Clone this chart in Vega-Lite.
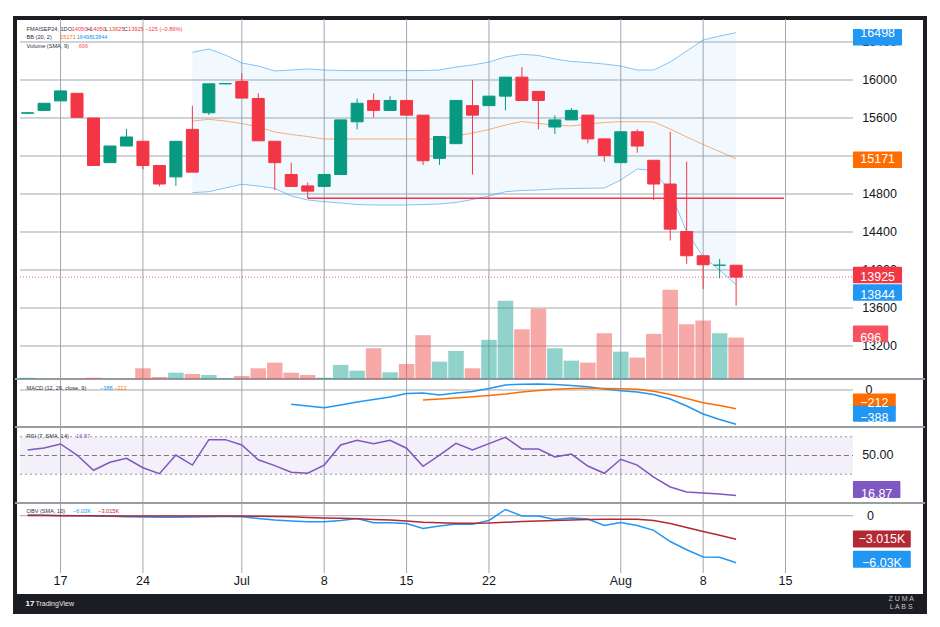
{
  "$schema": "https://vega.github.io/schema/vega-lite/v6.json",
  "description": "FMAISEP24 daily candles with Bollinger Bands, volume, MACD, RSI and OBV panes.",
  "width": 910,
  "height": 594,
  "autosize": {"type": "none"},
  "padding": {"left": 15, "top": 18, "right": 15, "bottom": 15},
  "background": "#ffffff",
  "config": {
    "font": "Liberation Sans",
    "view": {"stroke": "#1b1d22", "strokeWidth": 4, "fill": "#ffffff"}
  },
  "resolve": {"scale": {"y": "independent"}},
  "datasets": {
    "bars": [
      {"i": -2, "open": 15650, "high": 15660, "low": 15640, "close": 15655, "volume": 22, "rsi": 54.5, "obv": 90, "obv_ma": 20},
      {"i": -1, "open": 15680, "high": 15755, "low": 15680, "close": 15755, "volume": 5, "rsi": 56.2, "obv": 50, "obv_ma": 10},
      {"i": 0, "open": 15780, "high": 15885, "low": 15780, "close": 15885, "volume": 5, "rsi": 59.5, "obv": 25, "obv_ma": 0},
      {"i": 1, "open": 15860, "high": 15860, "low": 15607, "close": 15607, "volume": 5, "rsi": 50.4, "obv": -13, "obv_ma": -10},
      {"i": 2, "open": 15600, "high": 15600, "low": 15100, "close": 15100, "volume": 22, "rsi": 37.8, "obv": -40, "obv_ma": -20},
      {"i": 3, "open": 15130, "high": 15305, "low": 15130, "close": 15305, "volume": 5, "rsi": 44.4, "obv": -77, "obv_ma": -30},
      {"i": 4, "open": 15305, "high": 15485, "low": 15305, "close": 15400, "volume": 5, "rsi": 47.7, "obv": -128, "obv_ma": -40},
      {"i": 5, "open": 15355, "high": 15355, "low": 15060, "close": 15100, "volume": 180, "rsi": 39.9, "obv": -167, "obv_ma": -40},
      {"i": 6, "open": 15100, "high": 15100, "low": 14880, "close": 14905, "volume": 34, "rsi": 35.0, "obv": -205, "obv_ma": -40},
      {"i": 7, "open": 14980, "high": 15355, "low": 14885, "close": 15355, "volume": 107, "rsi": 50.4, "obv": -190, "obv_ma": -45},
      {"i": 8, "open": 15480, "high": 15730, "low": 15030, "close": 15030, "volume": 84, "bb_upper": 16291, "bb_basis": 15568, "bb_lower": 14814, "rsi": 42.1, "obv": -167, "obv_ma": -45},
      {"i": 9, "open": 15655, "high": 15960, "low": 15632, "close": 15960, "volume": 67, "bb_upper": 16326, "bb_basis": 15586, "bb_lower": 14824, "rsi": 63.1, "obv": -128, "obv_ma": -40},
      {"i": 10, "open": 15960, "high": 15965, "low": 15955, "close": 15962, "volume": 10, "bb_upper": 16263, "bb_basis": 15568, "bb_lower": 14863, "rsi": 63.1, "obv": -115, "obv_ma": -40},
      {"i": 11, "open": 15985, "high": 16070, "low": 15807, "close": 15810, "volume": 51, "bb_upper": 16179, "bb_basis": 15542, "bb_lower": 14902, "rsi": 58.7, "obv": -128, "obv_ma": -40},
      {"i": 12, "open": 15805, "high": 15860, "low": 15358, "close": 15360, "volume": 180, "bb_upper": 16147, "bb_basis": 15505, "bb_lower": 14884, "rsi": 46.5, "obv": -360, "obv_ma": -64},
      {"i": 13, "open": 15355, "high": 15355, "low": 14840, "close": 15130, "volume": 275, "bb_upper": 16095, "bb_basis": 15453, "bb_lower": 14858, "rsi": 41.6, "obv": -552, "obv_ma": -103},
      {"i": 14, "open": 15005, "high": 15130, "low": 14877, "close": 14880, "volume": 107, "bb_upper": 16105, "bb_basis": 15426, "bb_lower": 14779, "macd": -162, "rsi": 36.1, "obv": -680, "obv_ma": -141},
      {"i": 15, "open": 14885, "high": 14920, "low": 14755, "close": 14830, "volume": 67, "bb_upper": 16116, "bb_basis": 15405, "bb_lower": 14737, "macd": -181, "rsi": 35.3, "obv": -770, "obv_ma": -231},
      {"i": 16, "open": 14880, "high": 15005, "low": 14877, "close": 15005, "volume": 22, "bb_upper": 16105, "bb_basis": 15379, "bb_lower": 14719, "macd": -200, "rsi": 42.1, "obv": -770, "obv_ma": -295},
      {"i": 17, "open": 15005, "high": 15580, "low": 15005, "close": 15580, "volume": 236, "bb_upper": 16100, "bb_basis": 15379, "bb_lower": 14705, "macd": -170, "rsi": 58.7, "obv": -616, "obv_ma": -334},
      {"i": 18, "open": 15560, "high": 15805, "low": 15480, "close": 15755, "volume": 140, "bb_upper": 16098, "bb_basis": 15379, "bb_lower": 14689, "macd": -136, "rsi": 62.6, "obv": -360, "obv_ma": -398},
      {"i": 19, "open": 15785, "high": 15860, "low": 15607, "close": 15680, "volume": 517, "bb_upper": 16098, "bb_basis": 15379, "bb_lower": 14684, "macd": -107, "rsi": 59.8, "obv": -899, "obv_ma": -488},
      {"i": 20, "open": 15680, "high": 15830, "low": 15680, "close": 15785, "volume": 113, "bb_upper": 16098, "bb_basis": 15379, "bb_lower": 14684, "macd": -79, "rsi": 62.6, "obv": -899, "obv_ma": -565},
      {"i": 21, "open": 15785, "high": 15785, "low": 15628, "close": 15630, "volume": 253, "bb_upper": 16098, "bb_basis": 15379, "bb_lower": 14684, "macd": -40, "rsi": 56.0, "obv": -1001, "obv_ma": -680},
      {"i": 22, "open": 15630, "high": 15630, "low": 15105, "close": 15150, "volume": 737, "bb_upper": 16100, "bb_basis": 15379, "bb_lower": 14689, "macd": -34, "signal": -113, "rsi": 41.1, "obv": -1643, "obv_ma": -847},
      {"i": 23, "open": 15175, "high": 15405, "low": 15105, "close": 15405, "volume": 292, "bb_upper": 16105, "bb_basis": 15379, "bb_lower": 14695, "macd": -57, "signal": -102, "rsi": 50.4, "obv": -1322, "obv_ma": -911},
      {"i": 24, "open": 15330, "high": 15785, "low": 15330, "close": 15785, "volume": 472, "bb_upper": 16137, "bb_basis": 15411, "bb_lower": 14711, "macd": -34, "signal": -90, "rsi": 60.1, "obv": -1065, "obv_ma": -976},
      {"i": 25, "open": 15730, "high": 16000, "low": 15005, "close": 15630, "volume": 180, "bb_upper": 16158, "bb_basis": 15442, "bb_lower": 14742, "macd": -17, "signal": -77, "rsi": 54.5, "obv": -1104, "obv_ma": -976},
      {"i": 26, "open": 15730, "high": 15830, "low": 15730, "close": 15830, "volume": 658, "bb_upper": 16189, "bb_basis": 15479, "bb_lower": 14779, "macd": 17, "signal": -62, "rsi": 59.8, "obv": -616, "obv_ma": -937},
      {"i": 27, "open": 15830, "high": 16030, "low": 15680, "close": 16030, "volume": 1315, "bb_upper": 16242, "bb_basis": 15526, "bb_lower": 14824, "macd": 57, "signal": -45, "rsi": 65.0, "obv": 796, "obv_ma": -847},
      {"i": 28, "open": 16030, "high": 16135, "low": 15785, "close": 15785, "volume": 838, "bb_upper": 16271, "bb_basis": 15563, "bb_lower": 14837, "macd": 66, "signal": -23, "rsi": 55.4, "obv": -39, "obv_ma": -757},
      {"i": 29, "open": 15880, "high": 15880, "low": 15480, "close": 15785, "volume": 1180, "bb_upper": 16258, "bb_basis": 15542, "bb_lower": 14842, "macd": 68, "signal": -6, "rsi": 55.4, "obv": -39, "obv_ma": -680},
      {"i": 30, "open": 15505, "high": 15628, "low": 15432, "close": 15580, "volume": 517, "bb_upper": 16221, "bb_basis": 15526, "bb_lower": 14853, "macd": 62, "signal": 8, "rsi": 48.8, "obv": -488, "obv_ma": -616},
      {"i": 31, "open": 15580, "high": 15705, "low": 15580, "close": 15680, "volume": 309, "bb_upper": 16195, "bb_basis": 15516, "bb_lower": 14858, "macd": 51, "signal": 17, "rsi": 51.2, "obv": -295, "obv_ma": -552},
      {"i": 32, "open": 15630, "high": 15630, "low": 15335, "close": 15380, "volume": 275, "bb_upper": 16184, "bb_basis": 15537, "bb_lower": 14860, "macd": 36, "signal": 19, "rsi": 41.3, "obv": -424, "obv_ma": -501},
      {"i": 33, "open": 15380, "high": 15380, "low": 15140, "close": 15205, "volume": 770, "bb_upper": 16168, "bb_basis": 15553, "bb_lower": 14863, "macd": 11, "signal": 18, "rsi": 35.3, "obv": -1258, "obv_ma": -462},
      {"i": 34, "open": 15130, "high": 15455, "low": 15130, "close": 15455, "volume": 460, "bb_upper": 16147, "bb_basis": 15561, "bb_lower": 14947, "macd": -8, "signal": 14, "rsi": 46.9, "obv": -873, "obv_ma": -462},
      {"i": 35, "open": 15455, "high": 15481, "low": 15235, "close": 15305, "volume": 360, "bb_upper": 16105, "bb_basis": 15561, "bb_lower": 15063, "macd": -23, "signal": 8, "rsi": 42.1, "obv": -1258, "obv_ma": -462},
      {"i": 36, "open": 15155, "high": 15155, "low": 14735, "close": 14905, "volume": 759, "bb_upper": 16105, "bb_basis": 15558, "bb_lower": 15047, "macd": -51, "signal": -14, "rsi": 32.2, "obv": -1887, "obv_ma": -616},
      {"i": 37, "open": 14905, "high": 15455, "low": 14310, "close": 14430, "volume": 1500, "bb_upper": 16189, "bb_basis": 15484, "bb_lower": 14821, "macd": -102, "signal": -51, "rsi": 24.0, "obv": -3312, "obv_ma": -1001},
      {"i": 38, "open": 14405, "high": 15140, "low": 14065, "close": 14150, "volume": 922, "bb_upper": 16305, "bb_basis": 15400, "bb_lower": 14400, "macd": -181, "signal": -96, "rsi": 19.8, "obv": -4365, "obv_ma": -1515},
      {"i": 39, "open": 14150, "high": 14150, "low": 13800, "close": 14055, "volume": 983, "bb_upper": 16421, "bb_basis": 15321, "bb_lower": 14137, "macd": -271, "signal": -144, "rsi": 19.0, "obv": -5302, "obv_ma": -2028},
      {"i": 40, "open": 14050, "high": 14115, "low": 13912, "close": 14050, "volume": 770, "bb_upper": 16463, "bb_basis": 15247, "bb_lower": 14000, "macd": -334, "signal": -175, "rsi": 18.2, "obv": -5340, "obv_ma": -2503},
      {"i": 41, "open": 14050, "high": 14050, "low": 13625, "close": 13925, "volume": 696, "bb_upper": 16498, "bb_basis": 15171, "bb_lower": 13844, "macd": -388, "signal": -212, "rsi": 16.87, "obv": -6030, "obv_ma": -3015}
    ],
    "ticks": [
      {"i": 0, "label": "17"}, {"i": 5, "label": "24"}, {"i": 11, "label": "Jul"},
      {"i": 16, "label": "8"}, {"i": 21, "label": "15"}, {"i": 26, "label": "22"},
      {"i": 34, "label": "Aug"}, {"i": 39, "label": "8"}, {"i": 44, "label": "15"}
    ],
    "priceLevels": [
      {"level": 16400}, {"level": 16000}, {"level": 15600}, {"level": 15200}, {"level": 14800},
      {"level": 14400}, {"level": 14000}, {"level": 13600}, {"level": 13200}
    ],
    "rsiBands": [{"level": 65.5}, {"level": 34.5}],
    "priceTags": [
      {"series": "bb_upper", "value": 16498, "label": "16498"},
      {"series": "bb_basis", "value": 15171, "label": "15171"},
      {"series": "close", "value": 13925, "label": "13925"}
    ],
    "lowerTag": [{"series": "bb_lower", "value": 13844, "label": "13844"}],
    "volumeTag": [{"series": "volume", "value": 696, "label": "696"}],
    "macdTags": [
      {"series": "signal", "value": -212, "label": "−212"},
      {"series": "macd", "value": -388, "label": "−388"}
    ],
    "rsiTag": [{"series": "rsi", "value": 16.87, "label": "16.87"}],
    "obvTags": [
      {"series": "obv_ma", "value": -3015, "label": "−3.015K"},
      {"series": "obv", "value": -6030, "label": "−6.03K"}
    ]
  },
  "layer": [
    {
      "data": {"name": "ticks"},
      "mark": {"type": "rule", "color": "#a5a7ad", "strokeWidth": 1},
      "encoding": {
        "x": {"field": "i", "type": "quantitative", "scale": {"domain": [-2.461, 52.16], "nice": false, "zero": false}, "axis": null},
        "y": {"datum": 0, "type": "quantitative", "scale": {"domain": [0, 1], "range": [555, 1], "nice": false, "zero": false}, "axis": null},
        "y2": {"datum": 1}
      }
    },
    {
      "data": {"name": "priceLevels"},
      "mark": {"type": "rule", "color": "#a5a7ad", "strokeWidth": 1},
      "encoding": {
        "x": {"datum": -2.461, "type": "quantitative", "scale": {"domain": [-2.461, 52.16], "nice": false, "zero": false}, "axis": null},
        "x2": {"datum": 48.09},
        "y": {"field": "level", "type": "quantitative", "scale": {"domain": [12852.6, 16652.6], "range": [361, 0], "nice": false, "zero": false}, "axis": null}
      }
    },
    {
      "data": {"values": [{}]},
      "mark": {"type": "rect", "color": "#7e57c2", "opacity": 0.09},
      "encoding": {
        "x": {"datum": -2.461, "type": "quantitative", "scale": {"domain": [-2.461, 52.16], "nice": false, "zero": false}, "axis": null},
        "x2": {"datum": 48.09},
        "y": {"datum": 34.5, "type": "quantitative", "scale": {"domain": [10.74, 73.55], "range": [485, 409], "nice": false, "zero": false}, "axis": null},
        "y2": {"datum": 65.5}
      }
    },
    {
      "data": {"name": "rsiBands"},
      "mark": {"type": "rule", "color": "#9598a1", "strokeWidth": 1, "strokeDash": [2, 3]},
      "encoding": {
        "x": {"datum": -2.461, "type": "quantitative", "scale": {"domain": [-2.461, 52.16], "nice": false, "zero": false}, "axis": null},
        "x2": {"datum": 48.09},
        "y": {"field": "level", "type": "quantitative", "scale": {"domain": [10.74, 73.55], "range": [485, 409], "nice": false, "zero": false}, "axis": null}
      }
    },
    {
      "data": {"values": [{}]},
      "mark": {"type": "rule", "color": "#787b86", "strokeWidth": 1, "strokeDash": [5, 3]},
      "encoding": {
        "x": {"datum": -2.461, "type": "quantitative", "scale": {"domain": [-2.461, 52.16], "nice": false, "zero": false}, "axis": null},
        "x2": {"datum": 48.09},
        "y": {"datum": 50, "type": "quantitative", "scale": {"domain": [10.74, 73.55], "range": [485, 409], "nice": false, "zero": false}, "axis": null}
      }
    },
    {
      "data": {"values": [{}]},
      "mark": {"type": "rule", "color": "#a5a7ad", "strokeWidth": 1},
      "encoding": {
        "x": {"datum": -2.461, "type": "quantitative", "scale": {"domain": [-2.461, 52.16], "nice": false, "zero": false}, "axis": null},
        "x2": {"datum": 48.09},
        "y": {"datum": 0, "type": "quantitative", "scale": {"domain": [-418.6, 124.4], "range": [409, 361], "nice": false, "zero": false}, "axis": null}
      }
    },
    {
      "data": {"values": [{}]},
      "mark": {"type": "rule", "color": "#a5a7ad", "strokeWidth": 1},
      "encoding": {
        "x": {"datum": -2.461, "type": "quantitative", "scale": {"domain": [-2.461, 52.16], "nice": false, "zero": false}, "axis": null},
        "x2": {"datum": 48.09},
        "y": {"datum": 0, "type": "quantitative", "scale": {"domain": [-7356, 1630], "range": [555, 485], "nice": false, "zero": false}, "axis": null}
      }
    },
    {
      "data": {"values": [{}]},
      "mark": {"type": "rule", "color": "#9a9ca3", "strokeWidth": 2},
      "encoding": {
        "y": {"datum": 12852.6, "type": "quantitative", "scale": {"domain": [12852.6, 16652.6], "range": [361, 0], "nice": false, "zero": false}, "axis": null}
      }
    },
    {
      "data": {"values": [{}]},
      "mark": {"type": "rule", "color": "#9a9ca3", "strokeWidth": 2},
      "encoding": {
        "y": {"datum": -418.6, "type": "quantitative", "scale": {"domain": [-418.6, 124.4], "range": [409, 361], "nice": false, "zero": false}, "axis": null}
      }
    },
    {
      "data": {"values": [{}]},
      "mark": {"type": "rule", "color": "#9a9ca3", "strokeWidth": 2},
      "encoding": {
        "y": {"datum": 10.74, "type": "quantitative", "scale": {"domain": [10.74, 73.55], "range": [485, 409], "nice": false, "zero": false}, "axis": null}
      }
    },
    {
      "data": {"name": "bars"},
      "mark": {"type": "bar", "size": 15.5, "opacity": 0.5},
      "encoding": {
        "x": {"field": "i", "type": "quantitative", "scale": {"domain": [-2.461, 52.16], "nice": false, "zero": false}, "axis": null},
        "y": {"field": "volume", "type": "quantitative", "scale": {"domain": [0, 6070], "range": [361, 0], "nice": false}, "axis": null},
        "color": {"condition": {"test": "datum.close >= datum.open", "value": "#26a69a"}, "value": "#ef5350"}
      }
    },
    {
      "data": {"name": "bars"},
      "mark": {"type": "area", "color": "#2196f3", "opacity": 0.06},
      "encoding": {
        "x": {"field": "i", "type": "quantitative", "scale": {"domain": [-2.461, 52.16], "nice": false, "zero": false}, "axis": null},
        "y": {"field": "bb_lower", "type": "quantitative", "scale": {"domain": [12852.6, 16652.6], "range": [361, 0], "nice": false, "zero": false}, "axis": null},
        "y2": {"field": "bb_upper"}
      }
    },
    {
      "data": {"name": "bars"},
      "transform": [{"fold": ["bb_upper", "bb_basis", "bb_lower"], "as": ["series", "val"]}],
      "mark": {"type": "line", "strokeWidth": 1, "opacity": 0.55},
      "encoding": {
        "x": {"field": "i", "type": "quantitative", "scale": {"domain": [-2.461, 52.16], "nice": false, "zero": false}, "axis": null},
        "y": {"field": "val", "type": "quantitative", "scale": {"domain": [12852.6, 16652.6], "range": [361, 0], "nice": false, "zero": false}, "axis": null},
        "color": {"field": "series", "type": "nominal", "legend": null,
          "scale": {"domain": ["bb_upper", "bb_basis", "bb_lower", "close", "volume", "macd", "signal", "rsi", "obv", "obv_ma"],
                    "range": ["#2196f3", "#ff6d00", "#2196f3", "#f23645", "#f7525f", "#2196f3", "#ff6d00", "#7e57c2", "#2196f3", "#b22833"]}},
        "detail": {"field": "series"}
      }
    },
    {
      "data": {"values": [{}]},
      "mark": {"type": "rule", "color": "#f23645", "strokeWidth": 1.5},
      "encoding": {
        "x": {"datum": 15, "type": "quantitative", "scale": {"domain": [-2.461, 52.16], "nice": false, "zero": false}, "axis": null},
        "x2": {"datum": 43.9},
        "y": {"datum": 14755, "type": "quantitative", "scale": {"domain": [12852.6, 16652.6], "range": [361, 0], "nice": false, "zero": false}, "axis": null}
      }
    },
    {
      "data": {"values": [{}]},
      "mark": {"type": "rule", "color": "#f23645", "strokeWidth": 1, "strokeDash": [1, 2], "opacity": 0.8},
      "encoding": {
        "x": {"datum": -2.461, "type": "quantitative", "scale": {"domain": [-2.461, 52.16], "nice": false, "zero": false}, "axis": null},
        "x2": {"datum": 48.09},
        "y": {"datum": 13925, "type": "quantitative", "scale": {"domain": [12852.6, 16652.6], "range": [361, 0], "nice": false, "zero": false}, "axis": null}
      }
    },
    {
      "data": {"name": "bars"},
      "mark": {"type": "rule", "strokeWidth": 1},
      "encoding": {
        "x": {"field": "i", "type": "quantitative", "scale": {"domain": [-2.461, 52.16], "nice": false, "zero": false}, "axis": null},
        "y": {"field": "low", "type": "quantitative", "scale": {"domain": [12852.6, 16652.6], "range": [361, 0], "nice": false, "zero": false}, "axis": null},
        "y2": {"field": "high"},
        "color": {"condition": {"test": "datum.close >= datum.open", "value": "#089981"}, "value": "#f23645"}
      }
    },
    {
      "data": {"name": "bars"},
      "mark": {"type": "bar", "size": 12, "strokeWidth": 1},
      "encoding": {
        "x": {"field": "i", "type": "quantitative", "scale": {"domain": [-2.461, 52.16], "nice": false, "zero": false}, "axis": null},
        "y": {"field": "open", "type": "quantitative", "scale": {"domain": [12852.6, 16652.6], "range": [361, 0], "nice": false, "zero": false}, "axis": null},
        "y2": {"field": "close"},
        "color": {"condition": {"test": "datum.close >= datum.open", "value": "#089981"}, "value": "#f23645"},
        "stroke": {"condition": {"test": "datum.close >= datum.open", "value": "#089981"}, "value": "#f23645"}
      }
    },
    {
      "data": {"name": "bars"},
      "transform": [{"fold": ["macd", "signal"], "as": ["series", "val"]}],
      "mark": {"type": "line", "strokeWidth": 1.5},
      "encoding": {
        "x": {"field": "i", "type": "quantitative", "scale": {"domain": [-2.461, 52.16], "nice": false, "zero": false}, "axis": null},
        "y": {"field": "val", "type": "quantitative", "scale": {"domain": [-418.6, 124.4], "range": [409, 361], "nice": false, "zero": false}, "axis": null},
        "color": {"field": "series", "type": "nominal", "legend": null,
          "scale": {"domain": ["bb_upper", "bb_basis", "bb_lower", "close", "volume", "macd", "signal", "rsi", "obv", "obv_ma"],
                    "range": ["#2196f3", "#ff6d00", "#2196f3", "#f23645", "#f7525f", "#2196f3", "#ff6d00", "#7e57c2", "#2196f3", "#b22833"]}},
        "detail": {"field": "series"}
      }
    },
    {
      "data": {"name": "bars"},
      "mark": {"type": "line", "strokeWidth": 1.5, "color": "#7e57c2"},
      "encoding": {
        "x": {"field": "i", "type": "quantitative", "scale": {"domain": [-2.461, 52.16], "nice": false, "zero": false}, "axis": null},
        "y": {"field": "rsi", "type": "quantitative", "scale": {"domain": [10.74, 73.55], "range": [485, 409], "nice": false, "zero": false}, "axis": null}
      }
    },
    {
      "data": {"name": "bars"},
      "transform": [{"fold": ["obv", "obv_ma"], "as": ["series", "val"]}],
      "mark": {"type": "line", "strokeWidth": 1.5},
      "encoding": {
        "x": {"field": "i", "type": "quantitative", "scale": {"domain": [-2.461, 52.16], "nice": false, "zero": false}, "axis": null},
        "y": {"field": "val", "type": "quantitative", "scale": {"domain": [-7356, 1630], "range": [555, 485], "nice": false, "zero": false}, "axis": null},
        "color": {"field": "series", "type": "nominal", "legend": null,
          "scale": {"domain": ["bb_upper", "bb_basis", "bb_lower", "close", "volume", "macd", "signal", "rsi", "obv", "obv_ma"],
                    "range": ["#2196f3", "#ff6d00", "#2196f3", "#f23645", "#f7525f", "#2196f3", "#ff6d00", "#7e57c2", "#2196f3", "#b22833"]}},
        "detail": {"field": "series"}
      }
    },
    {
      "data": {"name": "priceLevels"},
      "transform": [{"filter": "datum.level != 15200"}],
      "mark": {"type": "text", "align": "left", "baseline": "middle", "fontSize": 12.5, "color": "#131722"},
      "encoding": {
        "x": {"datum": 48.65, "type": "quantitative", "scale": {"domain": [-2.461, 52.16], "nice": false, "zero": false}, "axis": null},
        "y": {"field": "level", "type": "quantitative", "scale": {"domain": [12852.6, 16652.6], "range": [361, 0], "nice": false, "zero": false}, "axis": null},
        "text": {"field": "level", "type": "quantitative", "format": "d"}
      }
    },
    {
      "data": {"values": [{}]},
      "mark": {"type": "text", "align": "left", "baseline": "middle", "fontSize": 12.5, "color": "#131722"},
      "encoding": {
        "x": {"datum": 48.85, "type": "quantitative", "scale": {"domain": [-2.461, 52.16], "nice": false, "zero": false}, "axis": null},
        "y": {"datum": 0, "type": "quantitative", "scale": {"domain": [-418.6, 124.4], "range": [409, 361], "nice": false, "zero": false}, "axis": null},
        "text": {"value": "0"}
      }
    },
    {
      "data": {"values": [{}]},
      "mark": {"type": "text", "align": "left", "baseline": "middle", "fontSize": 12.5, "color": "#131722"},
      "encoding": {
        "x": {"datum": 48.65, "type": "quantitative", "scale": {"domain": [-2.461, 52.16], "nice": false, "zero": false}, "axis": null},
        "y": {"datum": 50, "type": "quantitative", "scale": {"domain": [10.74, 73.55], "range": [485, 409], "nice": false, "zero": false}, "axis": null},
        "text": {"value": "50.00"}
      }
    },
    {
      "data": {"values": [{}]},
      "mark": {"type": "text", "align": "left", "baseline": "middle", "fontSize": 12.5, "color": "#131722"},
      "encoding": {
        "x": {"datum": 48.95, "type": "quantitative", "scale": {"domain": [-2.461, 52.16], "nice": false, "zero": false}, "axis": null},
        "y": {"datum": 0, "type": "quantitative", "scale": {"domain": [-7356, 1630], "range": [555, 485], "nice": false, "zero": false}, "axis": null},
        "text": {"value": "0"}
      }
    },
    {
      "data": {"name": "priceTags"},
      "mark": {"type": "bar", "orient": "horizontal", "height": 16.5, "cornerRadius": 1},
      "encoding": {
        "x": {"datum": 48.09, "type": "quantitative", "scale": {"domain": [-2.461, 52.16], "nice": false, "zero": false}, "axis": null},
        "x2": {"datum": 51.07},
        "y": {"field": "value", "type": "quantitative", "scale": {"domain": [12852.6, 16652.6], "range": [361, 0], "nice": false, "zero": false}, "axis": null},
        "color": {"field": "series", "type": "nominal", "legend": null,
          "scale": {"domain": ["bb_upper", "bb_basis", "bb_lower", "close", "volume", "macd", "signal", "rsi", "obv", "obv_ma"],
                    "range": ["#2196f3", "#ff6d00", "#2196f3", "#f23645", "#f7525f", "#2196f3", "#ff6d00", "#7e57c2", "#2196f3", "#b22833"]}}
      }
    },
    {
      "data": {"name": "priceTags"},
      "mark": {"type": "text", "align": "center", "baseline": "middle", "fontSize": 12.5, "color": "#ffffff"},
      "encoding": {
        "x": {"datum": 49.59, "type": "quantitative", "scale": {"domain": [-2.461, 52.16], "nice": false, "zero": false}, "axis": null},
        "y": {"field": "value", "type": "quantitative", "scale": {"domain": [12852.6, 16652.6], "range": [361, 0], "nice": false, "zero": false}, "axis": null},
        "text": {"field": "label"}
      }
    },
    {
      "data": {"name": "lowerTag"},
      "mark": {"type": "bar", "orient": "horizontal", "height": 16.5, "cornerRadius": 1, "yOffset": 10},
      "encoding": {
        "x": {"datum": 48.09, "type": "quantitative", "scale": {"domain": [-2.461, 52.16], "nice": false, "zero": false}, "axis": null},
        "x2": {"datum": 51.07},
        "y": {"field": "value", "type": "quantitative", "scale": {"domain": [12852.6, 16652.6], "range": [361, 0], "nice": false, "zero": false}, "axis": null},
        "color": {"field": "series", "type": "nominal", "legend": null,
          "scale": {"domain": ["bb_upper", "bb_basis", "bb_lower", "close", "volume", "macd", "signal", "rsi", "obv", "obv_ma"],
                    "range": ["#2196f3", "#ff6d00", "#2196f3", "#f23645", "#f7525f", "#2196f3", "#ff6d00", "#7e57c2", "#2196f3", "#b22833"]}}
      }
    },
    {
      "data": {"name": "lowerTag"},
      "mark": {"type": "text", "align": "center", "baseline": "middle", "fontSize": 12.5, "color": "#ffffff", "yOffset": 10},
      "encoding": {
        "x": {"datum": 49.59, "type": "quantitative", "scale": {"domain": [-2.461, 52.16], "nice": false, "zero": false}, "axis": null},
        "y": {"field": "value", "type": "quantitative", "scale": {"domain": [12852.6, 16652.6], "range": [361, 0], "nice": false, "zero": false}, "axis": null},
        "text": {"field": "label"}
      }
    },
    {
      "data": {"name": "volumeTag"},
      "mark": {"type": "bar", "orient": "horizontal", "height": 16.5, "cornerRadius": 1},
      "encoding": {
        "x": {"datum": 48.09, "type": "quantitative", "scale": {"domain": [-2.461, 52.16], "nice": false, "zero": false}, "axis": null},
        "x2": {"datum": 50.23},
        "y": {"field": "value", "type": "quantitative", "scale": {"domain": [0, 6070], "range": [361, 0], "nice": false}, "axis": null},
        "color": {"field": "series", "type": "nominal", "legend": null,
          "scale": {"domain": ["bb_upper", "bb_basis", "bb_lower", "close", "volume", "macd", "signal", "rsi", "obv", "obv_ma"],
                    "range": ["#2196f3", "#ff6d00", "#2196f3", "#f23645", "#f7525f", "#2196f3", "#ff6d00", "#7e57c2", "#2196f3", "#b22833"]}}
      }
    },
    {
      "data": {"name": "volumeTag"},
      "mark": {"type": "text", "align": "center", "baseline": "middle", "fontSize": 12.5, "color": "#ffffff"},
      "encoding": {
        "x": {"datum": 49.17, "type": "quantitative", "scale": {"domain": [-2.461, 52.16], "nice": false, "zero": false}, "axis": null},
        "y": {"field": "value", "type": "quantitative", "scale": {"domain": [0, 6070], "range": [361, 0], "nice": false}, "axis": null},
        "text": {"field": "label"}
      }
    },
    {
      "data": {"name": "macdTags"},
      "mark": {"type": "bar", "orient": "horizontal", "height": 16, "cornerRadius": 1, "yOffset": -6},
      "encoding": {
        "x": {"datum": 48.09, "type": "quantitative", "scale": {"domain": [-2.461, 52.16], "nice": false, "zero": false}, "axis": null},
        "x2": {"datum": 50.69},
        "y": {"field": "value", "type": "quantitative", "scale": {"domain": [-418.6, 124.4], "range": [409, 361], "nice": false, "zero": false}, "axis": null},
        "color": {"field": "series", "type": "nominal", "legend": null,
          "scale": {"domain": ["bb_upper", "bb_basis", "bb_lower", "close", "volume", "macd", "signal", "rsi", "obv", "obv_ma"],
                    "range": ["#2196f3", "#ff6d00", "#2196f3", "#f23645", "#f7525f", "#2196f3", "#ff6d00", "#7e57c2", "#2196f3", "#b22833"]}}
      }
    },
    {
      "data": {"name": "macdTags"},
      "mark": {"type": "text", "align": "center", "baseline": "middle", "fontSize": 12.5, "color": "#ffffff", "yOffset": -6},
      "encoding": {
        "x": {"datum": 49.39, "type": "quantitative", "scale": {"domain": [-2.461, 52.16], "nice": false, "zero": false}, "axis": null},
        "y": {"field": "value", "type": "quantitative", "scale": {"domain": [-418.6, 124.4], "range": [409, 361], "nice": false, "zero": false}, "axis": null},
        "text": {"field": "label"}
      }
    },
    {
      "data": {"name": "rsiTag"},
      "mark": {"type": "bar", "orient": "horizontal", "height": 17, "cornerRadius": 1, "yOffset": -2},
      "encoding": {
        "x": {"datum": 48.09, "type": "quantitative", "scale": {"domain": [-2.461, 52.16], "nice": false, "zero": false}, "axis": null},
        "x2": {"datum": 50.97},
        "y": {"field": "value", "type": "quantitative", "scale": {"domain": [10.74, 73.55], "range": [485, 409], "nice": false, "zero": false}, "axis": null},
        "color": {"field": "series", "type": "nominal", "legend": null,
          "scale": {"domain": ["bb_upper", "bb_basis", "bb_lower", "close", "volume", "macd", "signal", "rsi", "obv", "obv_ma"],
                    "range": ["#2196f3", "#ff6d00", "#2196f3", "#f23645", "#f7525f", "#2196f3", "#ff6d00", "#7e57c2", "#2196f3", "#b22833"]}}
      }
    },
    {
      "data": {"name": "rsiTag"},
      "mark": {"type": "text", "align": "center", "baseline": "middle", "fontSize": 12.5, "color": "#ffffff", "yOffset": -2},
      "encoding": {
        "x": {"datum": 49.53, "type": "quantitative", "scale": {"domain": [-2.461, 52.16], "nice": false, "zero": false}, "axis": null},
        "y": {"field": "value", "type": "quantitative", "scale": {"domain": [10.74, 73.55], "range": [485, 409], "nice": false, "zero": false}, "axis": null},
        "text": {"field": "label"}
      }
    },
    {
      "data": {"name": "obvTags"},
      "mark": {"type": "bar", "orient": "horizontal", "height": 17, "cornerRadius": 1},
      "encoding": {
        "x": {"datum": 48.09, "type": "quantitative", "scale": {"domain": [-2.461, 52.16], "nice": false, "zero": false}, "axis": null},
        "x2": {"datum": 51.6},
        "y": {"field": "value", "type": "quantitative", "scale": {"domain": [-7356, 1630], "range": [555, 485], "nice": false, "zero": false}, "axis": null},
        "color": {"field": "series", "type": "nominal", "legend": null,
          "scale": {"domain": ["bb_upper", "bb_basis", "bb_lower", "close", "volume", "macd", "signal", "rsi", "obv", "obv_ma"],
                    "range": ["#2196f3", "#ff6d00", "#2196f3", "#f23645", "#f7525f", "#2196f3", "#ff6d00", "#7e57c2", "#2196f3", "#b22833"]}}
      }
    },
    {
      "data": {"name": "obvTags"},
      "mark": {"type": "text", "align": "center", "baseline": "middle", "fontSize": 12.5, "color": "#ffffff"},
      "encoding": {
        "x": {"datum": 49.85, "type": "quantitative", "scale": {"domain": [-2.461, 52.16], "nice": false, "zero": false}, "axis": null},
        "y": {"field": "value", "type": "quantitative", "scale": {"domain": [-7356, 1630], "range": [555, 485], "nice": false, "zero": false}, "axis": null},
        "text": {"field": "label"}
      }
    },
    {
      "data": {"values": [{}]},
      "mark": {"type": "text", "align": "left", "baseline": "middle", "fontSize": 5.6, "color": "#2a2e39"},
      "encoding": {
        "x": {"datum": -2.06, "type": "quantitative", "scale": {"domain": [-2.461, 52.16], "nice": false, "zero": false}, "axis": null},
        "y": {"datum": 16531.6, "type": "quantitative", "scale": {"domain": [12852.6, 16652.6], "range": [361, 0], "nice": false, "zero": false}, "axis": null},
        "text": {"value": "FMAISEP24, 1D"}
      }
    },
    {
      "data": {"values": [{}]},
      "mark": {"type": "text", "align": "left", "baseline": "middle", "fontSize": 5.6, "color": "#2a2e39"},
      "encoding": {
        "x": {"datum": 0.44, "type": "quantitative", "scale": {"domain": [-2.461, 52.16], "nice": false, "zero": false}, "axis": null},
        "y": {"datum": 16531.6, "type": "quantitative", "scale": {"domain": [12852.6, 16652.6], "range": [361, 0], "nice": false, "zero": false}, "axis": null},
        "text": {"value": "O"}
      }
    },
    {
      "data": {"values": [{}]},
      "mark": {"type": "text", "align": "left", "baseline": "middle", "fontSize": 5.6, "color": "#f23645"},
      "encoding": {
        "x": {"datum": 0.68, "type": "quantitative", "scale": {"domain": [-2.461, 52.16], "nice": false, "zero": false}, "axis": null},
        "y": {"datum": 16531.6, "type": "quantitative", "scale": {"domain": [12852.6, 16652.6], "range": [361, 0], "nice": false, "zero": false}, "axis": null},
        "text": {"value": "14050"}
      }
    },
    {
      "data": {"values": [{}]},
      "mark": {"type": "text", "align": "left", "baseline": "middle", "fontSize": 5.6, "color": "#2a2e39"},
      "encoding": {
        "x": {"datum": 1.6, "type": "quantitative", "scale": {"domain": [-2.461, 52.16], "nice": false, "zero": false}, "axis": null},
        "y": {"datum": 16531.6, "type": "quantitative", "scale": {"domain": [12852.6, 16652.6], "range": [361, 0], "nice": false, "zero": false}, "axis": null},
        "text": {"value": "H"}
      }
    },
    {
      "data": {"values": [{}]},
      "mark": {"type": "text", "align": "left", "baseline": "middle", "fontSize": 5.6, "color": "#f23645"},
      "encoding": {
        "x": {"datum": 1.8, "type": "quantitative", "scale": {"domain": [-2.461, 52.16], "nice": false, "zero": false}, "axis": null},
        "y": {"datum": 16531.6, "type": "quantitative", "scale": {"domain": [12852.6, 16652.6], "range": [361, 0], "nice": false, "zero": false}, "axis": null},
        "text": {"value": "14050"}
      }
    },
    {
      "data": {"values": [{}]},
      "mark": {"type": "text", "align": "left", "baseline": "middle", "fontSize": 5.6, "color": "#2a2e39"},
      "encoding": {
        "x": {"datum": 2.7, "type": "quantitative", "scale": {"domain": [-2.461, 52.16], "nice": false, "zero": false}, "axis": null},
        "y": {"datum": 16531.6, "type": "quantitative", "scale": {"domain": [12852.6, 16652.6], "range": [361, 0], "nice": false, "zero": false}, "axis": null},
        "text": {"value": "L"}
      }
    },
    {
      "data": {"values": [{}]},
      "mark": {"type": "text", "align": "left", "baseline": "middle", "fontSize": 5.6, "color": "#f23645"},
      "encoding": {
        "x": {"datum": 2.94, "type": "quantitative", "scale": {"domain": [-2.461, 52.16], "nice": false, "zero": false}, "axis": null},
        "y": {"datum": 16531.6, "type": "quantitative", "scale": {"domain": [12852.6, 16652.6], "range": [361, 0], "nice": false, "zero": false}, "axis": null},
        "text": {"value": "13625"}
      }
    },
    {
      "data": {"values": [{}]},
      "mark": {"type": "text", "align": "left", "baseline": "middle", "fontSize": 5.6, "color": "#2a2e39"},
      "encoding": {
        "x": {"datum": 3.84, "type": "quantitative", "scale": {"domain": [-2.461, 52.16], "nice": false, "zero": false}, "axis": null},
        "y": {"datum": 16531.6, "type": "quantitative", "scale": {"domain": [12852.6, 16652.6], "range": [361, 0], "nice": false, "zero": false}, "axis": null},
        "text": {"value": "C"}
      }
    },
    {
      "data": {"values": [{}]},
      "mark": {"type": "text", "align": "left", "baseline": "middle", "fontSize": 5.6, "color": "#f23645"},
      "encoding": {
        "x": {"datum": 4.1, "type": "quantitative", "scale": {"domain": [-2.461, 52.16], "nice": false, "zero": false}, "axis": null},
        "y": {"datum": 16531.6, "type": "quantitative", "scale": {"domain": [12852.6, 16652.6], "range": [361, 0], "nice": false, "zero": false}, "axis": null},
        "text": {"value": "13925"}
      }
    },
    {
      "data": {"values": [{}]},
      "mark": {"type": "text", "align": "left", "baseline": "middle", "fontSize": 5.6, "color": "#f23645"},
      "encoding": {
        "x": {"datum": 5.14, "type": "quantitative", "scale": {"domain": [-2.461, 52.16], "nice": false, "zero": false}, "axis": null},
        "y": {"datum": 16531.6, "type": "quantitative", "scale": {"domain": [12852.6, 16652.6], "range": [361, 0], "nice": false, "zero": false}, "axis": null},
        "text": {"value": "−125 (−0.89%)"}
      }
    },
    {
      "data": {"values": [{}]},
      "mark": {"type": "text", "align": "left", "baseline": "middle", "fontSize": 5.6, "color": "#2a2e39"},
      "encoding": {
        "x": {"datum": -2.06, "type": "quantitative", "scale": {"domain": [-2.461, 52.16], "nice": false, "zero": false}, "axis": null},
        "y": {"datum": 16455.8, "type": "quantitative", "scale": {"domain": [12852.6, 16652.6], "range": [361, 0], "nice": false, "zero": false}, "axis": null},
        "text": {"value": "BB (20, 2)"}
      }
    },
    {
      "data": {"values": [{}]},
      "mark": {"type": "text", "align": "left", "baseline": "middle", "fontSize": 5.6, "color": "#ff6d00"},
      "encoding": {
        "x": {"datum": -0.02, "type": "quantitative", "scale": {"domain": [-2.461, 52.16], "nice": false, "zero": false}, "axis": null},
        "y": {"datum": 16455.8, "type": "quantitative", "scale": {"domain": [12852.6, 16652.6], "range": [361, 0], "nice": false, "zero": false}, "axis": null},
        "text": {"value": "15171"}
      }
    },
    {
      "data": {"values": [{}]},
      "mark": {"type": "text", "align": "left", "baseline": "middle", "fontSize": 5.6, "color": "#2196f3"},
      "encoding": {
        "x": {"datum": 0.98, "type": "quantitative", "scale": {"domain": [-2.461, 52.16], "nice": false, "zero": false}, "axis": null},
        "y": {"datum": 16455.8, "type": "quantitative", "scale": {"domain": [12852.6, 16652.6], "range": [361, 0], "nice": false, "zero": false}, "axis": null},
        "text": {"value": "16498"}
      }
    },
    {
      "data": {"values": [{}]},
      "mark": {"type": "text", "align": "left", "baseline": "middle", "fontSize": 5.6, "color": "#2196f3"},
      "encoding": {
        "x": {"datum": 1.9, "type": "quantitative", "scale": {"domain": [-2.461, 52.16], "nice": false, "zero": false}, "axis": null},
        "y": {"datum": 16455.8, "type": "quantitative", "scale": {"domain": [12852.6, 16652.6], "range": [361, 0], "nice": false, "zero": false}, "axis": null},
        "text": {"value": "13844"}
      }
    },
    {
      "data": {"values": [{}]},
      "mark": {"type": "text", "align": "left", "baseline": "middle", "fontSize": 5.6, "color": "#2a2e39"},
      "encoding": {
        "x": {"datum": -2.06, "type": "quantitative", "scale": {"domain": [-2.461, 52.16], "nice": false, "zero": false}, "axis": null},
        "y": {"datum": 16357.9, "type": "quantitative", "scale": {"domain": [12852.6, 16652.6], "range": [361, 0], "nice": false, "zero": false}, "axis": null},
        "text": {"value": "Volume (SMA, 9)"}
      }
    },
    {
      "data": {"values": [{}]},
      "mark": {"type": "text", "align": "left", "baseline": "middle", "fontSize": 5.6, "color": "#f7525f"},
      "encoding": {
        "x": {"datum": 1.1, "type": "quantitative", "scale": {"domain": [-2.461, 52.16], "nice": false, "zero": false}, "axis": null},
        "y": {"datum": 16357.9, "type": "quantitative", "scale": {"domain": [12852.6, 16652.6], "range": [361, 0], "nice": false, "zero": false}, "axis": null},
        "text": {"value": "696"}
      }
    },
    {
      "data": {"values": [{}]},
      "mark": {"type": "text", "align": "left", "baseline": "middle", "fontSize": 5.6, "color": "#2a2e39"},
      "encoding": {
        "x": {"datum": -2.06, "type": "quantitative", "scale": {"domain": [-2.461, 52.16], "nice": false, "zero": false}, "axis": null},
        "y": {"datum": 22.6, "type": "quantitative", "scale": {"domain": [-418.6, 124.4], "range": [409, 361], "nice": false, "zero": false}, "axis": null},
        "text": {"value": "MACD (12, 26, close, 9)"}
      }
    },
    {
      "data": {"values": [{}]},
      "mark": {"type": "text", "align": "left", "baseline": "middle", "fontSize": 5.6, "color": "#2196f3"},
      "encoding": {
        "x": {"datum": 2.4, "type": "quantitative", "scale": {"domain": [-2.461, 52.16], "nice": false, "zero": false}, "axis": null},
        "y": {"datum": 22.6, "type": "quantitative", "scale": {"domain": [-418.6, 124.4], "range": [409, 361], "nice": false, "zero": false}, "axis": null},
        "text": {"value": "−388"}
      }
    },
    {
      "data": {"values": [{}]},
      "mark": {"type": "text", "align": "left", "baseline": "middle", "fontSize": 5.6, "color": "#ff6d00"},
      "encoding": {
        "x": {"datum": 3.24, "type": "quantitative", "scale": {"domain": [-2.461, 52.16], "nice": false, "zero": false}, "axis": null},
        "y": {"datum": 22.6, "type": "quantitative", "scale": {"domain": [-418.6, 124.4], "range": [409, 361], "nice": false, "zero": false}, "axis": null},
        "text": {"value": "−212"}
      }
    },
    {
      "data": {"values": [{}]},
      "mark": {"type": "text", "align": "left", "baseline": "middle", "fontSize": 5.6, "color": "#2a2e39"},
      "encoding": {
        "x": {"datum": -2.06, "type": "quantitative", "scale": {"domain": [-2.461, 52.16], "nice": false, "zero": false}, "axis": null},
        "y": {"datum": 66.1, "type": "quantitative", "scale": {"domain": [10.74, 73.55], "range": [485, 409], "nice": false, "zero": false}, "axis": null},
        "text": {"value": "RSI (7, SMA, 14)"}
      }
    },
    {
      "data": {"values": [{}]},
      "mark": {"type": "text", "align": "left", "baseline": "middle", "fontSize": 5.6, "color": "#7e57c2"},
      "encoding": {
        "x": {"datum": 0.94, "type": "quantitative", "scale": {"domain": [-2.461, 52.16], "nice": false, "zero": false}, "axis": null},
        "y": {"datum": 66.1, "type": "quantitative", "scale": {"domain": [10.74, 73.55], "range": [485, 409], "nice": false, "zero": false}, "axis": null},
        "text": {"value": "16.87"}
      }
    },
    {
      "data": {"values": [{}]},
      "mark": {"type": "text", "align": "left", "baseline": "middle", "fontSize": 5.6, "color": "#2a2e39"},
      "encoding": {
        "x": {"datum": -2.06, "type": "quantitative", "scale": {"domain": [-2.461, 52.16], "nice": false, "zero": false}, "axis": null},
        "y": {"datum": 603, "type": "quantitative", "scale": {"domain": [-7356, 1630], "range": [555, 485], "nice": false, "zero": false}, "axis": null},
        "text": {"value": "OBV (SMA, 10)"}
      }
    },
    {
      "data": {"values": [{}]},
      "mark": {"type": "text", "align": "left", "baseline": "middle", "fontSize": 5.6, "color": "#2196f3"},
      "encoding": {
        "x": {"datum": 0.76, "type": "quantitative", "scale": {"domain": [-2.461, 52.16], "nice": false, "zero": false}, "axis": null},
        "y": {"datum": 603, "type": "quantitative", "scale": {"domain": [-7356, 1630], "range": [555, 485], "nice": false, "zero": false}, "axis": null},
        "text": {"value": "−6.03K"}
      }
    },
    {
      "data": {"values": [{}]},
      "mark": {"type": "text", "align": "left", "baseline": "middle", "fontSize": 5.6, "color": "#b22833"},
      "encoding": {
        "x": {"datum": 2.28, "type": "quantitative", "scale": {"domain": [-2.461, 52.16], "nice": false, "zero": false}, "axis": null},
        "y": {"datum": 603, "type": "quantitative", "scale": {"domain": [-7356, 1630], "range": [555, 485], "nice": false, "zero": false}, "axis": null},
        "text": {"value": "−3.015K"}
      }
    },
    {
      "data": {"name": "ticks"},
      "mark": {"type": "text", "align": "center", "baseline": "middle", "fontSize": 12.5, "color": "#131722"},
      "encoding": {
        "x": {"field": "i", "type": "quantitative", "scale": {"domain": [-2.461, 52.16], "nice": false, "zero": false}, "axis": null},
        "y": {"datum": 0.6, "type": "quantitative", "scale": {"domain": [0, 1], "range": [576, 555], "nice": false, "zero": false}, "axis": null},
        "text": {"field": "label"}
      }
    },
    {
      "data": {"values": [{}]},
      "mark": {"type": "rect", "color": "#1b1d22"},
      "encoding": {
        "y": {"datum": 0, "type": "quantitative", "scale": {"domain": [0, 1], "range": [594, 576], "nice": false, "zero": false}, "axis": null},
        "y2": {"datum": 1}
      }
    },
    {
      "data": {"values": [{}]},
      "mark": {"type": "text", "align": "left", "baseline": "middle", "fontSize": 8, "fontWeight": "bold", "color": "#ffffff"},
      "encoding": {
        "x": {"datum": -2.125, "type": "quantitative", "scale": {"domain": [-2.461, 52.16], "nice": false, "zero": false}, "axis": null},
        "y": {"datum": 0.46, "type": "quantitative", "scale": {"domain": [0, 1], "range": [594, 576], "nice": false, "zero": false}, "axis": null},
        "text": {"value": "17"}
      }
    },
    {
      "data": {"values": [{}]},
      "mark": {"type": "text", "align": "left", "baseline": "middle", "fontSize": 7, "color": "#e6e6e6"},
      "encoding": {
        "x": {"datum": -1.525, "type": "quantitative", "scale": {"domain": [-2.461, 52.16], "nice": false, "zero": false}, "axis": null},
        "y": {"datum": 0.46, "type": "quantitative", "scale": {"domain": [0, 1], "range": [594, 576], "nice": false, "zero": false}, "axis": null},
        "text": {"value": "TradingView"}
      }
    },
    {
      "data": {"values": [{}]},
      "mark": {"type": "text", "align": "center", "baseline": "middle", "fontSize": 7, "color": "#c4c4c4"},
      "encoding": {
        "x": {"datum": 51.02, "type": "quantitative", "scale": {"domain": [-2.461, 52.16], "nice": false, "zero": false}, "axis": null},
        "y": {"datum": 0.72, "type": "quantitative", "scale": {"domain": [0, 1], "range": [594, 576], "nice": false, "zero": false}, "axis": null},
        "text": {"value": "Z  U  M  A"}
      }
    },
    {
      "data": {"values": [{}]},
      "mark": {"type": "text", "align": "center", "baseline": "middle", "fontSize": 7, "color": "#c4c4c4"},
      "encoding": {
        "x": {"datum": 51.02, "type": "quantitative", "scale": {"domain": [-2.461, 52.16], "nice": false, "zero": false}, "axis": null},
        "y": {"datum": 0.27, "type": "quantitative", "scale": {"domain": [0, 1], "range": [594, 576], "nice": false, "zero": false}, "axis": null},
        "text": {"value": "L  A  B  S"}
      }
    }
  ]
}
